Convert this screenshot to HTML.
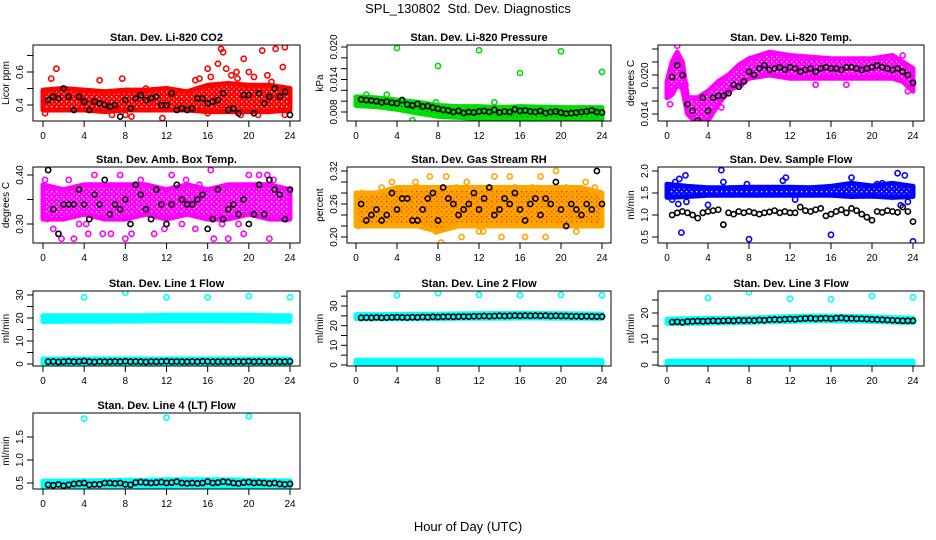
<!DOCTYPE html>
<html><head><meta charset="utf-8"><style>
body{margin:0;background:#fff;}
svg{display:block;font-family:"Liberation Sans",sans-serif;}
</style></head><body>
<svg id="c" width="936" height="540">
<text x="468" y="13" text-anchor="middle" font-size="13">SPL_130802&#160;&#160;Std. Dev. Diagnostics</text>
<text x="468" y="531" text-anchor="middle" font-size="13">Hour of Day (UTC)</text>
</svg>
<script>
const BH=[0.5,1,1.5,2,2.5,3,3.5,4,4.5,5,5.5,6,6.5,7,7.5,8,8.5,9,9.5,10,10.5,11,11.5,12,12.5,13,13.5,14,14.5,15,15.5,16,16.5,17,17.5,18,18.5,19,19.5,20,20.5,21,21.5,22,22.5,23,23.5,24];
const XT=[0,4,8,12,16,20,24];
const H13=[0,2,4,6,8,10,12,14,16,18,20,22,24];
// CO2
const co2Black=[0.43,0.45,0.44,0.50,0.45,0.37,0.45,0.42,0.37,0.42,0.41,0.40,0.39,0.40,0.33,0.43,0.38,0.44,0.46,0.43,0.44,0.45,0.40,0.40,0.47,0.37,0.38,0.37,0.38,0.44,0.44,0.41,0.42,0.43,0.47,0.37,0.38,0.35,0.46,0.46,0.35,0.47,0.41,0.45,0.50,0.45,0.48,0.34];
const co2Lo=[0.37,0.37,0.37,0.36,0.37,0.37,0.37,0.37,0.36,0.36,0.36,0.36,0.37];
const co2Hi=[0.49,0.50,0.49,0.48,0.49,0.49,0.50,0.48,0.52,0.53,0.52,0.52,0.50];
const co2OutH=[0.8,1.3,5.5,7.7,16,16.3,17,17.3,17.5,17.8,18.3,18.8,19.5,20,20.5,21.3,22.6,23.5,23.3,0.2,6.7,8,8.6,11.6,16,17.5,19.2,20.9,23.5,14.8,10,2.2,15.2,21.8,18.9,22.2];
const co2OutV=[0.56,0.62,0.55,0.56,0.62,0.57,0.65,0.74,0.72,0.62,0.58,0.60,0.68,0.60,0.57,0.73,0.74,0.75,0.63,0.35,0.34,0.34,0.33,0.32,0.35,0.37,0.34,0.34,0.34,0.55,0.50,0.49,0.56,0.58,0.56,0.54];
// Pressure
const prBlack=[0.0103,0.0102,0.0101,0.0100,0.0098,0.0099,0.0097,0.0096,0.0102,0.0094,0.0092,0.0095,0.0090,0.0091,0.0088,0.0086,0.0084,0.0083,0.0080,0.0082,0.0078,0.0080,0.0079,0.0081,0.0082,0.0080,0.0084,0.0079,0.0081,0.0080,0.0085,0.0082,0.0083,0.0081,0.0080,0.0082,0.0078,0.0080,0.0081,0.0079,0.0077,0.0078,0.0079,0.0080,0.0081,0.0083,0.0080,0.0079];
const prLo=[0.0092,0.0090,0.0085,0.0078,0.0072,0.0070,0.0068,0.0067,0.0066,0.0066,0.0066,0.0066,0.0066];
const prHi=[0.0108,0.0106,0.0102,0.0098,0.0092,0.0090,0.0090,0.0088,0.0090,0.0089,0.0088,0.0088,0.0088];
const prOutH=[4,8,12,16,20,24,1,5.5,7.8,13.5,19,3];
const prOutV=[0.0198,0.0165,0.0194,0.0152,0.0192,0.0154,0.0112,0.0065,0.0098,0.0098,0.0062,0.0112];
// Li-820 temp
const tpBlack=[0.0197,0.0215,0.0200,0.0155,0.0145,0.0130,0.0165,0.0145,0.0165,0.0168,0.0168,0.0172,0.0185,0.0182,0.0190,0.0205,0.0200,0.0210,0.0215,0.0208,0.0210,0.0212,0.0208,0.0212,0.0210,0.0205,0.0208,0.0210,0.0205,0.0210,0.0212,0.0210,0.0210,0.0208,0.0212,0.0212,0.0210,0.0208,0.0210,0.0212,0.0215,0.0212,0.0210,0.0208,0.0210,0.0205,0.0200,0.0188];
const tpH=[0,0.5,1,1.5,2,3,4,5,6,7,8,10,12,16,20,22,23,24];
const tpLo=[0.0165,0.017,0.0185,0.018,0.014,0.0125,0.013,0.0155,0.0175,0.0185,0.0195,0.020,0.0195,0.0195,0.0195,0.0195,0.019,0.0175];
const tpHi=[0.019,0.022,0.0235,0.022,0.0165,0.0165,0.0175,0.019,0.020,0.0215,0.0225,0.0235,0.023,0.0225,0.0225,0.023,0.022,0.021];
const tpOutH=[1,0.3,0.8,1.8,5.3,3,7.2,14.5,17.5,23,23.5];
const tpOutV=[0.0245,0.0155,0.0225,0.0185,0.0150,0.0130,0.0185,0.0185,0.0185,0.0230,0.0175];
// Amb box temp
const abBlack=[0.41,0.33,0.28,0.34,0.34,0.34,0.37,0.34,0.31,0.36,0.34,0.39,0.32,0.34,0.33,0.35,0.30,0.38,0.36,0.33,0.31,0.37,0.34,0.30,0.34,0.38,0.35,0.34,0.34,0.35,0.36,0.29,0.31,0.37,0.31,0.33,0.34,0.32,0.35,0.30,0.32,0.38,0.32,0.39,0.37,0.36,0.31,0.37];
const abLo=[0.31,0.31,0.32,0.31,0.31,0.32,0.31,0.32,0.31,0.31,0.32,0.31,0.31];
const abHi=[0.38,0.37,0.38,0.38,0.38,0.38,0.37,0.38,0.37,0.38,0.38,0.38,0.37];
const abOutH=[0.2,0.4,1,1.8,2.5,3.5,4.2,4.4,5,5.8,6.6,7.5,8,8.6,9.5,10.8,11.8,12.5,13.5,15.2,16.3,16.6,17.4,18,19.5,20,21,22,22.4,23.7,3,13.9,14.8,19,21.8];
const abOutV=[0.39,0.31,0.29,0.27,0.39,0.30,0.30,0.28,0.40,0.28,0.28,0.40,0.27,0.28,0.39,0.28,0.29,0.40,0.30,0.38,0.41,0.27,0.30,0.27,0.28,0.40,0.40,0.27,0.39,0.31,0.27,0.39,0.29,0.30,0.40];
// RH
const rhBlack=[0.26,0.23,0.24,0.25,0.23,0.24,0.28,0.25,0.27,0.27,0.23,0.23,0.25,0.27,0.28,0.23,0.29,0.27,0.26,0.24,0.25,0.26,0.28,0.25,0.27,0.29,0.24,0.25,0.27,0.26,0.28,0.25,0.23,0.26,0.27,0.24,0.27,0.26,0.30,0.25,0.22,0.26,0.25,0.24,0.26,0.25,0.32,0.26];
const rhLo=[0.22,0.22,0.22,0.22,0.21,0.22,0.22,0.22,0.22,0.22,0.22,0.22,0.22];
const rhHi=[0.28,0.28,0.29,0.29,0.29,0.29,0.29,0.29,0.29,0.29,0.29,0.29,0.28];
const rhOutH=[0.2,0.6,2.5,3.5,5,6,7.2,7.8,8.3,8.8,10.3,10.8,12,12.4,13.5,14.2,15.5,16.5,17.2,18,18.5,19.5,20.5,21.5,22.4,23.3,23.8,5.8,9.8,15];
const rhOutV=[0.22,0.28,0.29,0.30,0.28,0.29,0.31,0.21,0.19,0.31,0.20,0.30,0.21,0.21,0.31,0.20,0.29,0.20,0.29,0.31,0.20,0.32,0.29,0.21,0.30,0.29,0.28,0.30,0.29,0.31];
// Sample flow
const sfBlack=[1.00,1.05,1.08,1.05,1.00,0.93,1.05,1.08,1.10,1.12,0.78,1.05,1.02,1.08,1.05,1.08,1.05,1.02,1.05,1.07,1.10,1.05,1.08,1.05,1.05,1.18,1.10,1.08,1.12,1.15,0.98,1.02,1.08,1.12,1.05,1.15,1.10,1.02,0.95,0.88,1.08,1.06,1.10,1.08,1.06,1.18,1.08,0.85];
const sfLo=[1.40,1.42,1.45,1.45,1.45,1.45,1.45,1.45,1.45,1.42,1.43,1.40,1.42];
const sfHi=[1.70,1.65,1.62,1.62,1.63,1.63,1.63,1.62,1.65,1.72,1.66,1.72,1.65];
const sfOutH=[0.5,0.8,1.2,1.4,1.8,4,5.3,5.5,7.8,8,11.3,11.6,12.5,16,18,20.5,21,22.5,22.8,23.2,23.5,24,1.1,1.9];
const sfOutV=[1.35,1.75,1.82,0.60,1.90,1.23,2.02,1.75,1.70,0.45,1.78,1.85,1.35,0.55,1.85,1.70,1.72,1.95,1.22,1.90,1.30,0.40,1.25,1.30];
// Line 1
const l1Black=[1.0,1.1,0.9,1.0,1.2,1.0,1.1,1.3,1.0,0.9,1.1,1.0,1.0,1.1,1.0,1.2,1.0,1.1,1.0,0.9,1.1,1.0,1.1,1.2,1.0,1.1,1.0,1.0,1.1,1.0,1.2,1.1,1.0,1.0,1.1,1.0,1.0,1.1,1.0,1.2,1.0,1.1,1.0,1.0,1.1,1.0,1.0,1.1];
const l1HiLo=[18.5,18.6,18.7,18.6,18.7,18.7,18.8,18.8,18.8,18.7,18.8,18.7,18.6];
const l1HiHi=[21.0,21.0,21.0,21.0,21.0,21.0,21.2,21.2,21.2,21.2,21.2,21.0,21.0];
const l1LoLo=[0.4,0.4,0.4,0.4,0.4,0.4,0.4,0.4,0.4,0.4,0.4,0.4,0.4];
const l1LoHi=[2.2,2.2,2.2,2.2,2.2,2.2,2.2,2.2,2.2,2.2,2.2,2.2,2.2];
const l1OutH=[4,8,12,16,20,24];
const l1OutV=[29,31,29,29,29.5,29];
// Line 2
const l2Black=[24.0,24.1,24.0,24.2,24.0,24.1,24.2,24.3,24.2,24.1,24.3,24.2,24.4,24.3,24.5,24.4,24.5,24.6,24.5,24.6,24.7,24.6,24.8,24.8,24.9,24.8,24.9,25.0,24.9,25.0,25.1,25.0,25.1,25.0,25.1,25.0,25.1,24.9,25.0,24.9,24.9,24.8,24.8,24.7,24.8,24.7,24.6,24.6];
const l2HiLo=[23.5,23.5,23.5,23.6,23.6,23.7,23.8,23.8,23.9,23.9,23.8,23.8,23.7];
const l2HiHi=[25.6,25.6,25.7,25.8,25.9,26.0,26.1,26.2,26.3,26.2,26.1,26.0,25.9];
const l2LoLo=[0.3,0.3,0.3,0.3,0.3,0.3,0.3,0.3,0.3,0.3,0.3,0.3,0.3];
const l2LoHi=[2.4,2.4,2.4,2.4,2.4,2.4,2.4,2.4,2.4,2.4,2.4,2.4,2.4];
const l2OutH=[4,8,12,16,20,24];
const l2OutV=[35.5,36.5,35.7,35.5,35.7,35.5];
// Line 3
const l3Black=[16.5,16.6,16.4,16.7,16.8,16.9,16.8,16.9,17.0,16.9,17.0,17.1,17.0,17.2,17.1,17.2,17.1,17.3,17.2,17.4,17.5,17.4,17.6,17.7,17.6,17.8,17.9,18.0,17.8,17.9,18.0,17.8,18.0,18.1,17.9,17.9,17.8,17.8,17.7,17.6,17.5,17.4,17.3,17.2,17.1,17.0,17.0,17.0];
const l3HiLo=[16.0,16.0,16.1,16.3,16.4,16.6,16.8,17.0,17.0,16.9,16.8,16.5,16.4];
const l3HiHi=[17.6,17.8,17.9,18.0,18.1,18.3,18.6,18.8,18.8,18.7,18.5,18.2,18.0];
const l3LoLo=[0.2,0.2,0.2,0.2,0.2,0.2,0.2,0.2,0.2,0.2,0.2,0.2,0.2];
const l3LoHi=[1.5,1.5,1.5,1.5,1.5,1.5,1.5,1.5,1.5,1.5,1.5,1.5,1.5];
const l3OutH=[4,8,12,16,20,24];
const l3OutV=[25.8,28,25.5,25.3,26.5,26];
// Line 4
const l4Black=[0.46,0.45,0.47,0.44,0.46,0.48,0.49,0.50,0.46,0.47,0.47,0.50,0.50,0.49,0.50,0.47,0.46,0.51,0.52,0.51,0.50,0.51,0.52,0.50,0.51,0.53,0.50,0.49,0.50,0.49,0.50,0.53,0.50,0.51,0.53,0.52,0.50,0.49,0.51,0.52,0.50,0.51,0.50,0.49,0.50,0.48,0.47,0.48];
const l4Lo=[0.41,0.41,0.42,0.42,0.42,0.42,0.43,0.43,0.43,0.43,0.42,0.42,0.42];
const l4Hi=[0.54,0.54,0.55,0.55,0.56,0.56,0.57,0.57,0.57,0.57,0.56,0.55,0.55];
const l4OutH=[4,12,20];
const l4OutV=[1.9,1.92,1.95];

const NS="http://www.w3.org/2000/svg";
const svg=document.getElementById('c');
function mk(tag,at,parent){const e=document.createElementNS(NS,tag);for(const k in at)e.setAttribute(k,at[k]);(parent||svg).appendChild(e);return e;}

const COLS=[{l:33,r:300,x0:43,x1:290},{l:347,r:611,x0:356,x1:602},{l:658,r:924,x0:667,x1:913}];
const ROWS=[{t:45,b:121},{t:167,b:243},{t:291,b:366},{t:413,b:489}];

const panels=[
 {name:'co2',title:'Stan. Dev. Li-820 CO2',ylab:'Licor ppm',c:0,r:0,v0:0.4,p0:105,v1:0.6,p1:72,ticks:[0.4,0.5,0.6,0.7],labels:[0.4,0.6],fmt:1,color:'#ff0000',dot:'#ffffff',bands:[[H13,co2Lo,co2Hi]],oh:co2OutH,ov:co2OutV,black:co2Black},
 {name:'pressure',title:'Stan. Dev. Li-820 Pressure',ylab:'kPa',c:1,r:0,v0:0.008,p0:112,v1:0.020,p1:47,ticks:[0.008,0.010,0.012,0.014,0.016,0.018,0.020],labels:[0.008,0.014,0.020],fmt:3,color:'#00dd00',dot:'#006600',bands:[[H13,prLo,prHi]],oh:prOutH,ov:prOutV,black:prBlack},
 {name:'li820-temp',title:'Stan. Dev. Li-820 Temp.',ylab:'degrees C',c:2,r:0,v0:0.014,p0:114,v1:0.020,p1:75,ticks:[0.014,0.016,0.018,0.020,0.022,0.024],labels:[0.014,0.020],fmt:3,color:'#ff00ff',dot:'#ffffff',bands:[[tpH,tpLo,tpHi]],oh:tpOutH,ov:tpOutV,black:tpBlack},
 {name:'amb-box-temp',title:'Stan. Dev. Amb. Box Temp.',ylab:'degrees C',c:0,r:1,v0:0.30,p0:224,v1:0.40,p1:175,ticks:[0.30,0.35,0.40],labels:[0.30,0.40],fmt:2,color:'#ff00ff',dot:'#ffffff',bands:[[H13,abLo,abHi]],oh:abOutH,ov:abOutV,black:abBlack},
 {name:'gas-stream-rh',title:'Stan. Dev. Gas Stream RH',ylab:'percent',c:1,r:1,v0:0.20,p0:237,v1:0.32,p1:171,ticks:[0.20,0.22,0.24,0.26,0.28,0.30,0.32],labels:[0.20,0.26,0.32],fmt:2,color:'#ffa500',dot:'#ff2000',bands:[[H13,rhLo,rhHi]],oh:rhOutH,ov:rhOutV,black:rhBlack},
 {name:'sample-flow',title:'Stan. Dev. Sample Flow',ylab:'ml/min',c:2,r:1,v0:0.5,p0:237,v1:2.0,p1:171,ticks:[0.5,1.0,1.5,2.0],labels:[0.5,1.0,1.5,2.0],fmt:1,color:'#0000ff',dot:'#ffffff',bands:[[H13,sfLo,sfHi]],oh:sfOutH,ov:sfOutV,black:sfBlack},
 {name:'line1-flow',title:'Stan. Dev. Line 1 Flow',ylab:'ml/min',c:0,r:2,v0:0,p0:364,v1:30,p1:295,ticks:[0,5,10,15,20,25,30],labels:[0,10,20,30],fmt:0,color:'#00ffff',bands:[[H13,l1HiLo,l1HiHi],[H13,l1LoLo,l1LoHi]],oh:l1OutH,ov:l1OutV,black:l1Black},
 {name:'line2-flow',title:'Stan. Dev. Line 2 Flow',ylab:'ml/min',c:1,r:2,v0:0,p0:365,v1:30,p1:306,ticks:[0,5,10,15,20,25,30,35],labels:[0,10,20,30],fmt:0,color:'#00ffff',bands:[[H13,l2HiLo,l2HiHi],[H13,l2LoLo,l2LoHi]],oh:l2OutH,ov:l2OutV,black:l2Black},
 {name:'line3-flow',title:'Stan. Dev. Line 3 Flow',ylab:'ml/min',c:2,r:2,v0:0,p0:365,v1:20,p1:313,ticks:[0,5,10,15,20,25],labels:[0,10,20],fmt:0,color:'#00ffff',bands:[[H13,l3HiLo,l3HiHi],[H13,l3LoLo,l3LoHi]],oh:l3OutH,ov:l3OutV,black:l3Black},
 {name:'line4-flow',title:'Stan. Dev. Line 4 (LT) Flow',ylab:'ml/min',c:0,r:3,v0:0.5,p0:483,v1:1.5,p1:437,ticks:[0.5,1.0,1.5],labels:[0.5,1.0,1.5],fmt:1,color:'#00ffff',bands:[[H13,l4Lo,l4Hi]],oh:l4OutH,ov:l4OutV,black:l4Black}
];

const defs=mk('defs',{});
panels.forEach((p,k)=>{
 if(!p.dot)return;
 const pat=mk('pattern',{id:'pat'+k,width:5,height:5,patternUnits:'userSpaceOnUse'},defs);
 mk('rect',{width:5,height:5,fill:p.color},pat);
 mk('rect',{x:1,y:1,width:1.3,height:1.3,fill:p.dot},pat);
 mk('rect',{x:3.5,y:3.5,width:1,height:1,fill:p.dot},pat);
 p.fill='url(#pat'+k+')';
});

panels.forEach(p=>{
 const C=COLS[p.c],R=ROWS[p.r];
 const xs=h=>C.x0+(C.x1-C.x0)*h/24;
 const ys=v=>p.p0+(p.p1-p.p0)*(v-p.v0)/(p.v1-p.v0);
 const g=mk('g',{});
 
 
 const clip=mk('clipPath',{id:'cl-'+p.name},defs);
 mk('rect',{x:C.l,y:R.t,width:C.r-C.l,height:R.b-R.t},clip);
 const t=mk('text',{x:(C.l+C.r)/2,y:R.t-4,'text-anchor':'middle','font-size':11,'font-weight':'bold'},g);
 t.textContent=p.title;
 
 
 const pg=mk('g',{'clip-path':'url(#cl-'+p.name+')'},g);
 p.bands.forEach(b=>{
  const [hh,lo,hi]=b;
  let pts=hh.map((h,i)=>xs(h)+','+ys(hi[i]));
  for(let i=hh.length-1;i>=0;i--)pts.push(xs(hh[i])+','+ys(lo[i]));
  const poly=mk('polygon',{points:pts.join(' '),fill:p.fill||p.color,stroke:p.color,'stroke-width':5,'stroke-linejoin':'round'},pg);
  
  
 });
 p.oh.forEach((h,i)=>{
  const c=mk('circle',{cx:xs(h),cy:ys(p.ov[i]),r:2.6,fill:'none',stroke:p.color,'stroke-width':1.6},pg);
  
  
 });
 p.black.forEach((v,i)=>{
  const c=mk('circle',{cx:xs(BH[i]),cy:ys(v),r:2.6,fill:'none',stroke:'#000','stroke-width':1.6},pg);
  
  
 });
 const box=mk('rect',{x:C.l,y:R.t,width:C.r-C.l,height:R.b-R.t,fill:'none',stroke:'#000','stroke-width':1},g);
 
 
 mk('line',{x1:xs(0),x2:xs(24),y1:R.b,y2:R.b,stroke:'#000'},g);
 XT.forEach(h=>{
  mk('line',{x1:xs(h),x2:xs(h),y1:R.b,y2:R.b+6,stroke:'#000'},g);
  const tl=mk('text',{x:xs(h),y:R.b+18,'text-anchor':'middle','font-size':10},g);
  tl.textContent=h;
  
  
 });
 const yt0=ys(p.ticks[0]),yt1=ys(p.ticks[p.ticks.length-1]);
 mk('line',{x1:C.l,x2:C.l,y1:yt0,y2:yt1,stroke:'#000'},g);
 p.ticks.forEach(v=>{mk('line',{x1:C.l-6,x2:C.l,y1:ys(v),y2:ys(v),stroke:'#000'},g);});
 p.labels.forEach(v=>{
  const x=C.l-10,y=ys(v);
  const tl=mk('text',{x:x,y:y,'text-anchor':'middle','font-size':10,transform:'rotate(-90 '+x+' '+y+')'},g);
  tl.textContent=v.toFixed(p.fmt);
  
  
 });
 const lx=C.l-24,ly=(R.t+R.b)/2;
 const yl=mk('text',{x:lx,y:ly,'text-anchor':'middle','font-size':10,transform:'rotate(-90 '+lx+' '+ly+')'},g);
 yl.textContent=p.ylab;
 
 
});
</script>
</body></html>
